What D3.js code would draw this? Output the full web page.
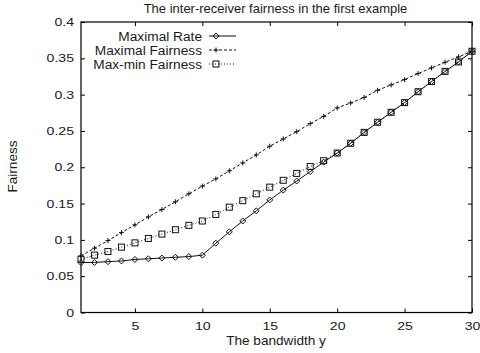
<!DOCTYPE html>
<html>
<head>
<meta charset="utf-8">
<script src="https://cdn.jsdelivr.net/npm/d3@7"></script>
<style>
  html, body { margin: 0; padding: 0; background: #fff; }
  svg text { font-family: "Liberation Sans", Arial, Helvetica, sans-serif; fill: #1a1a1a; }
</style>
</head>
<body>
<svg id="chart" width="480" height="353"></svg>
<script>
// Bandwidth values on the x axis
const bandwidth = d3.range(1, 31);

// Inter-receiver fairness for each allocation scheme
const maximalRate = [
  0.0687, 0.0690, 0.0700, 0.0710, 0.0730, 0.0740, 0.0750, 0.0760, 0.0770, 0.0789,
  0.0954, 0.1110, 0.1260, 0.1400, 0.1550, 0.1685, 0.1810, 0.1940, 0.2070, 0.2196,
  0.2330, 0.2480, 0.2620, 0.2757, 0.2890, 0.3040, 0.3180, 0.3320, 0.3450, 0.3597
];
const maximalFairness = [
  0.0780, 0.0885, 0.0990, 0.1100, 0.1207, 0.1317, 0.1418, 0.1524, 0.1634, 0.1740,
  0.1840, 0.1950, 0.2060, 0.2170, 0.2290, 0.2390, 0.2490, 0.2600, 0.2700, 0.2817,
  0.2885, 0.2960, 0.3060, 0.3134, 0.3207, 0.3290, 0.3368, 0.3446, 0.3520, 0.3597
];
const maxMinFairness = [
  0.0733, 0.0790, 0.0840, 0.0900, 0.0959, 0.1020, 0.1080, 0.1140, 0.1200, 0.1260,
  0.1350, 0.1450, 0.1540, 0.1634, 0.1726, 0.1820, 0.1915, 0.2010, 0.2090, 0.2196,
  0.2330, 0.2480, 0.2620, 0.2757, 0.2890, 0.3040, 0.3180, 0.3320, 0.3450, 0.3597
];

const xTicks = [5, 10, 15, 20, 25, 30];
const yTicks = [0, 0.05, 0.1, 0.15, 0.2, 0.25, 0.3, 0.35, 0.4];

const seriesNames = ["Maximal Rate", "Maximal Fairness", "Max-min Fairness"];
const seriesValues = [maximalRate, maximalFairness, maxMinFairness];
const seriesDash = [null, "3,2", "1,2"];
const seriesMarker = ["diamond", "plus", "square"];

const svg = d3.select("#chart");

const x = d3.scaleLinear().domain([1, 30]).range([81, 472]);
const y = d3.scaleLinear().domain([0, 0.4]).range([312.5, 22]);

const fmtY = d => d === 0 ? "0" : String(+d.toFixed(2));

// Tick numerals use a wide, short face
const tickFont = 11.2, tickStretch = 1.26;

// Axes with inward ticks, mirrored on top and right
svg.append("g")
  .attr("transform", `translate(0,${y(0)})`)
  .call(d3.axisBottom(x).tickValues(xTicks).tickSizeInner(-4).tickSizeOuter(0).tickPadding(9.5))
  .call(g => g.select(".domain").remove())
  .call(g => g.selectAll(".tick text").attr("transform", `scale(${tickStretch},1)`));
svg.append("g")
  .attr("transform", `translate(0,${y(0.4)})`)
  .call(d3.axisTop(x).tickValues(xTicks).tickSizeInner(-4).tickSizeOuter(0).tickFormat(""))
  .call(g => g.select(".domain").remove());
svg.append("g")
  .attr("transform", `translate(${x(1)},0)`)
  .call(d3.axisLeft(y).tickValues(yTicks).tickSizeInner(-4).tickSizeOuter(0).tickFormat(fmtY))
  .call(g => g.select(".domain").remove())
  .call(g => g.selectAll(".tick text")
    .attr("x", -7 / tickStretch)
    .attr("transform", `scale(${tickStretch},1)`));
svg.append("g")
  .attr("transform", `translate(${x(30)},0)`)
  .call(d3.axisRight(y).tickValues(yTicks).tickSizeInner(-4).tickSizeOuter(0).tickFormat(""))
  .call(g => g.select(".domain").remove());

svg.selectAll(".tick line").attr("stroke", "#000").attr("stroke-width", 1);
svg.selectAll(".tick text").attr("font-size", tickFont).attr("fill", "#1a1a1a")
  .style("font-family", '"Liberation Sans", Arial, sans-serif');

// Plot frame
svg.append("rect")
  .attr("x", x(1)).attr("y", y(0.4))
  .attr("width", x(30) - x(1)).attr("height", y(0) - y(0.4))
  .attr("fill", "none").attr("stroke", "#000").attr("stroke-width", 1.2);

// Marker shapes
function drawMarker(g, type, cx, cy) {
  if (type === "diamond") {
    g.append("path")
      .attr("d", `M${cx},${cy - 3}L${cx + 3},${cy}L${cx},${cy + 3}L${cx - 3},${cy}Z`)
      .attr("fill", "none").attr("stroke", "#111").attr("stroke-width", 1);
  } else if (type === "plus") {
    g.append("path")
      .attr("d", `M${cx - 2.5},${cy}H${cx + 2.5}M${cx},${cy - 2.5}V${cy + 2.5}`)
      .attr("fill", "none").attr("stroke", "#111").attr("stroke-width", 1);
  } else {
    g.append("rect")
      .attr("x", cx - 3).attr("y", cy - 3).attr("width", 6).attr("height", 6)
      .attr("fill", "none").attr("stroke", "#111").attr("stroke-width", 1);
  }
}

const line = d3.line().x((d, i) => x(bandwidth[i])).y(d => y(d));

seriesValues.forEach((vals, k) => {
  const g = svg.append("g");
  g.append("path")
    .datum(vals)
    .attr("d", line)
    .attr("fill", "none")
    .attr("stroke", "#111")
    .attr("stroke-width", 1)
    .attr("stroke-dasharray", seriesDash[k]);
  vals.forEach((v, i) => drawMarker(g, seriesMarker[k], x(bandwidth[i]), y(v)));
});

// Legend
const legendRows = [36, 50, 64];
seriesNames.forEach((name, k) => {
  const ly = legendRows[k];
  svg.append("text")
    .attr("x", 202).attr("y", ly).attr("dy", "0.35em")
    .attr("text-anchor", "end").attr("font-size", 13.7)
    .text(name);
  const g = svg.append("g");
  g.append("line")
    .attr("x1", 209).attr("x2", 236).attr("y1", ly).attr("y2", ly)
    .attr("stroke", "#111").attr("stroke-width", 1)
    .attr("stroke-dasharray", seriesDash[k]);
  drawMarker(g, seriesMarker[k], 216, ly);
});

// Title and axis labels
svg.append("text")
  .attr("x", 275.5).attr("y", 13)
  .attr("text-anchor", "middle").attr("font-size", 13)
  .text("The inter-receiver fairness in the first example");
svg.append("text")
  .attr("x", 276).attr("y", 345)
  .attr("text-anchor", "middle").attr("font-size", 13.6)
  .text("The bandwidth y");
svg.append("text")
  .attr("transform", "translate(17,166.5) rotate(-90)")
  .attr("text-anchor", "middle").attr("font-size", 13.6)
  .text("Fairness");
</script>
</body>
</html>
